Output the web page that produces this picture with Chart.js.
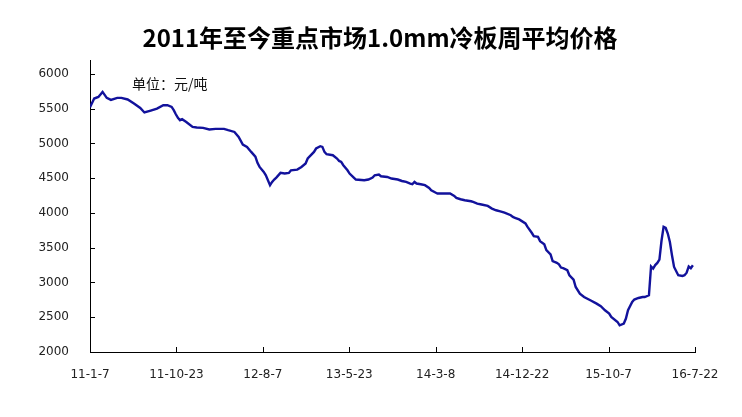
<!DOCTYPE html>
<html>
<head>
<meta charset="utf-8">
<script src="https://cdn.jsdelivr.net/npm/chart.js@4"></script>
<style>
  html, body { margin: 0; padding: 0; background: #fff; }
  #wrap { width: 742px; height: 417px; position: relative; }
</style>
</head>
<body>
<div id="wrap"><canvas id="priceChart"></canvas></div>
<script>
// weekly average price of 1.0mm cold rolled sheet (yuan/ton), week 0 = 2011-01-07
const weeks = [
  0, 2, 4, 6, 8, 10, 13, 15, 18, 21,
  24, 26, 29, 32, 35, 37, 39, 40, 41, 42,
  43, 44, 46, 49, 51, 54, 57, 60, 64, 66,
  69, 71, 73, 75, 77, 79, 80, 81, 83, 84,
  86, 87, 88, 89, 91, 93, 95, 96, 99, 101,
  103, 104, 107, 108, 110, 111, 112, 113, 116, 118,
  119, 120, 121, 123, 124, 126, 127, 131, 133, 135,
  136, 138, 139, 142, 144, 147, 149, 151, 153, 154,
  155, 156, 158, 160, 162, 163, 165, 166, 169, 172,
  174, 175, 177, 179, 182, 183, 185, 187, 190, 192,
  194, 196, 198, 201, 202, 203, 205, 208, 209, 211,
  212, 214, 215, 217, 218, 220, 221, 223, 224, 225,
  226, 228, 229, 231, 232, 234, 236, 239, 242, 244,
  246, 248, 249, 252, 253, 255, 256, 257, 259, 260,
  262, 264, 265, 267, 268, 269, 270, 271, 272, 273,
  274, 275, 276, 277, 278, 279, 281, 283, 284, 285,
  286, 287, 288
];
const prices = [
  5520, 5646, 5669, 5741, 5655, 5626, 5655, 5655, 5632, 5574,
  5511, 5445, 5473, 5502, 5550, 5550, 5525, 5478, 5420, 5367,
  5334, 5348, 5309, 5237, 5229, 5223, 5200, 5209, 5209, 5190,
  5165, 5094, 4984, 4950, 4878, 4810, 4720, 4662, 4590, 4542,
  4399, 4446, 4481, 4509, 4576, 4567, 4576, 4614, 4624, 4662,
  4711, 4783, 4878, 4927, 4960, 4950, 4878, 4845, 4830, 4783,
  4748, 4734, 4686, 4614, 4567, 4509, 4481, 4470, 4481, 4509,
  4542, 4553, 4528, 4518, 4495, 4481, 4460, 4446, 4423, 4413,
  4446, 4423, 4413, 4400, 4360, 4327, 4294, 4279, 4279, 4279,
  4245, 4216, 4197, 4183, 4168, 4158, 4135, 4121, 4101, 4063,
  4039, 4024, 4006, 3967, 3942, 3930, 3907, 3850, 3799, 3715,
  3665, 3655, 3595, 3550, 3465, 3405, 3307, 3283, 3262, 3214,
  3205, 3176, 3104, 3040, 2935, 2840, 2791, 2744, 2696, 2658,
  2600, 2553, 2504, 2432, 2384, 2409, 2481, 2600, 2719, 2754,
  2777, 2791, 2791, 2816, 3230, 3200, 3250, 3281, 3330, 3600,
  3799, 3784, 3704, 3583, 3391, 3223, 3104, 3094, 3104, 3140,
  3230, 3205, 3247
];
const xTickLabels = ['11-1-7', '11-10-23', '12-8-7', '13-5-23', '14-3-8', '14-12-22', '15-10-7', '16-7-22'];
const lastWeek = 289;
const yTicks = [2000, 2500, 3000, 3500, 4000, 4500, 5000, 5500, 6000];

const titleText = '2011年至今重点市场1.0mm冷板周平均价格';
const unitText = '单位：元/吨';

// title, unit note and inside tick marks
const decorPlugin = {
  id: 'decor',
  afterDraw(chart) {
    const ctx = chart.ctx;
    const area = chart.chartArea;
    const xs = chart.scales.x, ys = chart.scales.y;
    ctx.save();
    ctx.fillStyle = '#000';
    ctx.textAlign = 'center';
    ctx.textBaseline = 'middle';
    ctx.font = 'bold 24px "Noto Sans CJK SC", sans-serif';
    ctx.fillText(titleText, 380, 38);

    ctx.font = '14px "Noto Sans CJK SC", sans-serif';
    ctx.textAlign = 'left';
    ctx.fillStyle = '#111';
    ctx.fillText(unitText, 132, 84);

    ctx.strokeStyle = '#000';
    ctx.lineWidth = 1;
    ctx.beginPath();
    yTicks.forEach(v => {
      const y = Math.round(ys.getPixelForValue(v)) + 0.5;
      ctx.moveTo(area.left, y);
      ctx.lineTo(area.left + 5, y);
    });
    xTickLabels.forEach((_, i) => {
      const x = Math.round(xs.getPixelForValue(i * lastWeek / 7)) + 0.5;
      ctx.moveTo(x, area.bottom);
      ctx.lineTo(x, area.bottom - 5);
    });
    ctx.stroke();
    ctx.restore();
  }
};

new Chart(document.getElementById('priceChart'), {
  type: 'line',
  data: {
    datasets: [{
      data: weeks.map((w, i) => ({ x: w, y: prices[i] })),
      borderColor: '#12129c',
      borderWidth: 2.4,
      pointRadius: 0,
      tension: 0,
      fill: false
    }]
  },
  options: {
    responsive: true,
    maintainAspectRatio: false,
    animation: false,
    layout: { padding: { top: 60, right: 47, left: 0, bottom: 0 } },
    plugins: {
      legend: { display: false },
      tooltip: { enabled: false },
      title: { display: false }
    },
    scales: {
      x: {
        type: 'linear',
        min: 0,
        max: lastWeek,
        afterBuildTicks: scale => {
          scale.ticks = xTickLabels.map((_, i) => ({ value: i * lastWeek / 7 }));
        },
        afterFit: scale => { scale.height = 65; },
        grid: { drawOnChartArea: false, drawTicks: false },
        border: { display: true, color: '#000', width: 1 },
        ticks: {
          padding: 16,
          maxRotation: 0,
          autoSkip: false,
          color: '#222',
          font: { family: '"DejaVu Sans", sans-serif', size: 12 },
          callback: (v, i) => xTickLabels[i]
        }
      },
      y: {
        min: 2000,
        max: 6200,
        afterBuildTicks: scale => {
          scale.ticks = yTicks.map(v => ({ value: v }));
        },
        afterFit: scale => { scale.width = 90; },
        grid: { drawOnChartArea: false, drawTicks: false },
        border: { display: true, color: '#000', width: 1 },
        ticks: {
          padding: 21,
          color: '#222',
          font: { family: '"DejaVu Sans", sans-serif', size: 12 },
          callback: v => String(v)
        }
      }
    }
  },
  plugins: [decorPlugin]
});
</script>
</body>
</html>
